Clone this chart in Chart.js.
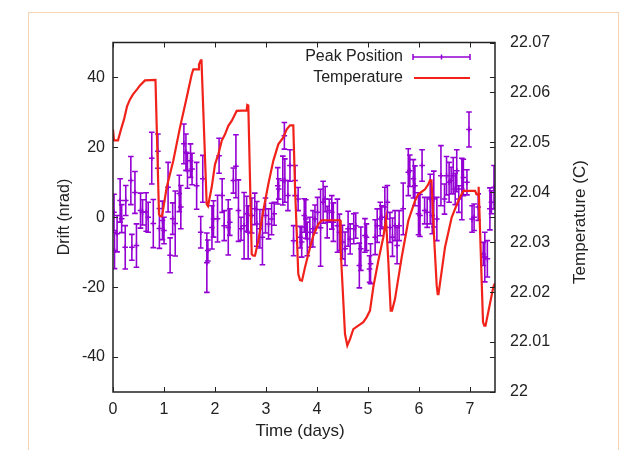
<!DOCTYPE html>
<html lang="en">
<head>
<meta charset="UTF-8">
<title>Drift and Temperature</title>
<script src="https://cdn.jsdelivr.net/npm/chart.js"></script>
<style>
  body { margin: 0; background: #fff; }
  .wrap { position: relative; width: 626px; height: 450px; overflow: hidden; }
  .frame { position: absolute; left: 28px; top: 12px; width: 589px; height: 460px; border: 1px solid #f7d3b4; }
  canvas { position: absolute; left: 0; top: 0; }
</style>
</head>
<body>
<div class="wrap">
  <div class="frame"></div>
  <canvas id="driftChart" width="626" height="450"></canvas>
</div>
<script>
// axis ticks
const dayTicks = [0, 1, 2, 3, 4, 5, 6, 7];
const driftTicks = [-40, -20, 0, 20, 40];
const tempTicks = [22.00, 22.01, 22.02, 22.03, 22.04, 22.05, 22.06, 22.07];
const tempTickLabels = ['22', '22.01', '22.02', '22.03', '22.04', '22.05', '22.06', '22.07'];

// peak position drift (nrad) with error bars
const peakDays = [0.02, 0.03, 0.08, 0.14, 0.17, 0.24, 0.25, 0.35, 0.37, 0.43, 0.46, 0.54, 0.58, 0.65, 0.69, 0.76, 0.79, 0.88, 0.91, 0.97,
  1.00, 1.08, 1.12, 1.17, 1.22, 1.30, 1.33, 1.39, 1.43, 1.46, 1.52, 1.55, 1.64, 1.72, 1.76, 1.84, 1.86, 1.94, 1.97,
  2.05, 2.08, 2.14, 2.18, 2.26, 2.29, 2.36, 2.41, 2.46, 2.51, 2.57, 2.62, 2.65, 2.72, 2.78, 2.82, 2.88, 2.93, 2.99,
  3.05, 3.11, 3.16, 3.23, 3.25, 3.33, 3.36, 3.37, 3.43, 3.47, 3.54, 3.57, 3.63, 3.67, 3.70, 3.75, 3.78, 3.81, 3.86, 3.92, 3.96,
  4.01, 4.07, 4.12, 4.16, 4.20, 4.24, 4.29, 4.32, 4.40, 4.44, 4.50, 4.55, 4.61, 4.65, 4.72, 4.76, 4.83, 4.86, 4.94, 4.97,
  5.03, 5.05, 5.14, 5.18, 5.24, 5.27, 5.33, 5.38, 5.43, 5.48, 5.53, 5.57, 5.61, 5.69, 5.79, 5.82, 5.89, 5.92, 5.99,
  6.02, 6.06, 6.11, 6.16, 6.22, 6.26, 6.29, 6.35, 6.43, 6.50, 6.54, 6.59, 6.63, 6.67, 6.71, 6.74, 6.78, 6.84, 6.87, 6.94, 6.98,
  7.04, 7.08, 7.16, 7.26, 7.29, 7.34, 7.39, 7.42, 7.47];
const peakDrift = [1.4, -9.5, -4.7, 4.8, -0.4, -8.6, 4.8, 10.5, -8.6, 7.1, -8.1, 1.9, 1.4, 1.5, 0, 16.9, -1.8, 18.9, -3.2, -0.9,
  -3.8, 8.6, -10.9, -0.4, -1.8, 6.8, 2.9, 21, 18.6, 13.3, 16.2, 13.8, 9, -4.3, 11, -13, -9.5, -2.9, -0.5,
  -0.4, 17.6, 6.2, -2.4, -2.9, -1.4, 10.5, 14.6, 1.9, -3.3, -2.4, 1, -4.3, 0.5, 2.4, -1.9, -3.3, -5.7, 0.5,
  -1.9, -0.5, 1, 9, 8.1, 10.5, 23.3, 10.5, 6.2, 14.8, -6.7, 10.5, 5.2, -5.7, -7.1, 0.5, -0.5, -6.2, -4.3, -3.3, -0.5,
  1.4, -3, 4.3, 5.2, -1.4, 1.9, 1.4, -1.4, -2.4, -4.3, -7.1, -9, -3.3, -6.2, -3.3, -2.4, -13.8, -9, -5.2, -5.7,
  -14.8, -13.3, -5.7, -2.4, -0.5, 0, 2.9, 4.3, -2.9, -5.7, -2.4, -8.1, -2.4, 2.4, 12.9, 13.3, 11, 9, 1,
  0.5, 14.8, 1.9, 1.4, 5.2, 0.5, 5.2, -0.5, 11.9, 5.2, 11.9, 10, 10.5, 11.9, 8.1, 13.3, 5.2, 8.1, 11.4, 10, 25.1,
  -0.5, 0, 2.9, -10.5, -11.4, -11.9, 2.4, 4.3, 8.6];
const peakErr = [5.2, 5.2, 5.2, 6.2, 4.0, 6.2, 4.3, 6.9, 3.7, 6.0, 6.2, 5.0, 3.6, 5.5, 4.3, 7.4, 6.9, 4.9, 5.7, 5.5,
  3.8, 7.1, 5.0, 4.5, 9.3, 5.2, 6.2, 5.7, 5.2, 5.0, 4.8, 4.5, 6.7, 4.5, 6.7, 8.5, 3.0, 6.2, 5.2,
  6.7, 5.0, 4.8, 4.3, 7.9, 3.8, 3.6, 9.0, 8.8, 3.3, 9.5, 5.0, 7.6, 5.0, 4.5, 6.4, 5.5, 7.9, 5.0,
  4.3, 4.5, 3.3, 5.2, 2.9, 7.0, 3.8, 6.2, 4.3, 4.5, 4.3, 4.3, 3.3, 3.1, 4.3, 4.8, 5.5, 4.8, 4.3, 5.2, 4.0,
  4.3, 11, 6.0, 3.6, 4.5, 3.3, 4.8, 5.5, 7.6, 5.2, 4.8, 4.8, 5.0, 4.3, 4.3, 3.6, 6.4, 6.2, 4.8, 3.8,
  3.8, 5.7, 5.0, 4.8, 4.8, 3.3, 5.7, 4.8, 4.3, 5.5, 4.3, 5.2, 4.3, 7.4, 6.7, 4.5, 5.5, 5.7, 6.0,
  6.0, 4.5, 3.8, 4.3, 7.1, 5.2, 8.0, 6.2, 8.6, 4.3, 5.5, 5.7, 3.8, 5.2, 4.5, 6.0, 3.8, 8.8, 5.2, 3.6, 5.0,
  3.8, 3.8, 3.8, 3.3, 7.1, 5.2, 6.0, 3.3, 6.2];

// temperature (C)
const tempDays = [0.000, 0.020, 0.098, 0.157, 0.216, 0.275, 0.333, 0.392, 0.471, 0.529, 0.627, 0.833, 0.902, 0.922, 0.961,
  1.053, 1.182, 1.314, 1.445, 1.543, 1.575, 1.667, 1.686, 1.720, 1.735, 1.837, 1.863, 1.935,
  2.000, 2.065, 2.131, 2.196, 2.261, 2.327, 2.425, 2.622, 2.633, 2.653, 2.720, 2.751, 2.784, 2.849, 2.947,
  3.045, 3.143, 3.241, 3.339, 3.406, 3.471, 3.535, 3.569, 3.633, 3.667, 3.706, 3.765, 3.829, 3.927,
  4.025, 4.092, 4.451, 4.465, 4.549, 4.594, 4.647, 4.712, 4.810, 4.908, 4.975,
  5.039, 5.104, 5.202, 5.300, 5.353, 5.398, 5.445, 5.471, 5.529, 5.661, 5.790, 5.922, 5.986,
  6.118, 6.182, 6.216, 6.245, 6.294, 6.347, 6.367, 6.382, 6.510, 6.641, 6.771, 6.869,
  7.098, 7.131, 7.157, 7.163, 7.176, 7.255, 7.280, 7.304, 7.457, 7.490];
const tempC = [22.0526, 22.0504, 22.0504, 22.0526, 22.0546, 22.0572, 22.0586, 22.0596, 22.0606, 22.0614, 22.0624, 22.0625, 22.0356, 22.0352, 22.0352,
  22.0410, 22.0463, 22.0530, 22.0590, 22.0636, 22.0646, 22.0646, 22.0656, 22.0664, 22.0664, 22.0376, 22.0372, 22.0410,
  22.0456, 22.0476, 22.0503, 22.0516, 22.0533, 22.0543, 22.0563, 22.0564, 22.0575, 22.0574, 22.0276, 22.0273, 22.0273, 22.0303, 22.0363,
  22.0416, 22.0463, 22.0496, 22.0510, 22.0526, 22.0534, 22.0534, 22.0410, 22.0236, 22.0224, 22.0223, 22.0250, 22.0276, 22.0313,
  22.0336, 22.0344, 22.0344, 22.0283, 22.0116, 22.0093, 22.0106, 22.0126, 22.0133, 22.0140, 22.0150,
  22.0163, 22.0210, 22.0263, 22.0310, 22.0346, 22.0262, 22.0163, 22.0163, 22.0186, 22.0270, 22.0343, 22.0383, 22.0396,
  22.0406, 22.0416, 22.0424, 22.0424, 22.0313, 22.0213, 22.0196, 22.0196, 22.0290, 22.0350, 22.0383, 22.0403,
  22.0403, 22.0396, 22.0396, 22.0411, 22.0410, 22.0140, 22.0133, 22.0133, 22.0210, 22.0218];

const purple = '#9400d3';
const red = '#f0221a';
const ink = '#222';
const FONT = '"Liberation Sans", Arial, Helvetica, sans-serif';

Chart.defaults.font.family = FONT;
Chart.defaults.font.size = 16;
Chart.defaults.color = ink;

// vertical error bars with end caps, drawn under the datasets
const errorBars = {
  id: 'errorBars',
  beforeDatasetsDraw(chart) {
    const { ctx, chartArea: a, scales: { x, y } } = chart;
    ctx.save();
    ctx.beginPath();
    ctx.rect(a.left, a.top, a.width, a.height);
    ctx.clip();
    ctx.strokeStyle = purple;
    ctx.lineWidth = 1.6;
    ctx.beginPath();
    peakDays.forEach((d, i) => {
      const px = x.getPixelForValue(d);
      const hi = y.getPixelForValue(peakDrift[i] + peakErr[i]);
      const lo = y.getPixelForValue(peakDrift[i] - peakErr[i]);
      ctx.moveTo(px, hi); ctx.lineTo(px, lo);
      ctx.moveTo(px - 2.8, hi); ctx.lineTo(px + 2.8, hi);
      ctx.moveTo(px - 2.8, lo); ctx.lineTo(px + 2.8, lo);
    });
    ctx.stroke();
    ctx.restore();
  }
};

// plot border, inward ticks on all sides, axis titles and key
const frame = {
  id: 'frame',
  afterDraw(chart) {
    const { ctx, chartArea: a, scales: { x, y, y1 } } = chart;
    const t = 5;
    ctx.save();
    ctx.strokeStyle = ink;
    ctx.lineWidth = 1;
    ctx.beginPath();
    dayTicks.forEach(v => {
      const px = Math.round(x.getPixelForValue(v)) + 0.5;
      ctx.moveTo(px, a.bottom); ctx.lineTo(px, a.bottom - t);
      ctx.moveTo(px, a.top); ctx.lineTo(px, a.top + t);
    });
    driftTicks.forEach(v => {
      const py = Math.round(y.getPixelForValue(v)) + 0.5;
      ctx.moveTo(a.left, py); ctx.lineTo(a.left + t, py);
      ctx.moveTo(a.right, py); ctx.lineTo(a.right - t, py);
    });
    tempTicks.forEach(v => {
      const py = Math.round(y1.getPixelForValue(v)) + 0.5;
      ctx.moveTo(a.right, py); ctx.lineTo(a.right - t, py);
    });
    ctx.stroke();
    ctx.lineWidth = 1.5;
    ctx.strokeRect(a.left, a.top, a.right - a.left, a.bottom - a.top);

    // axis titles
    ctx.fillStyle = ink;
    ctx.textAlign = 'center';
    ctx.textBaseline = 'middle';
    ctx.font = '17px ' + FONT;
    ctx.fillText('Time (days)', 300, 431);
    ctx.save();
    ctx.translate(580, 222);
    ctx.rotate(-Math.PI / 2);
    ctx.fillText('Temperature (C)', 0, 0);
    ctx.restore();
    ctx.font = '16px ' + FONT;
    ctx.save();
    ctx.translate(65, 217);
    ctx.rotate(-Math.PI / 2);
    ctx.fillText('Drift (nrad)', 0, 0);
    ctx.restore();

    // key
    const ds = chart.data.datasets;
    ctx.textAlign = 'right';
    ctx.fillText(ds[1].label, 403, 57);
    ctx.fillText(ds[0].label, 403, 78);
    ctx.strokeStyle = purple;
    ctx.lineWidth = 1.5;
    ctx.beginPath();
    ctx.moveTo(413, 57); ctx.lineTo(470, 57);
    ctx.moveTo(413, 54); ctx.lineTo(413, 60);
    ctx.moveTo(470, 54); ctx.lineTo(470, 60);
    ctx.moveTo(441.5, 54.5); ctx.lineTo(441.5, 59.5);
    ctx.stroke();
    ctx.strokeStyle = red;
    ctx.lineWidth = 2.2;
    ctx.beginPath();
    ctx.moveTo(414, 78); ctx.lineTo(470, 78);
    ctx.stroke();
    ctx.restore();
  }
};

new Chart(document.getElementById('driftChart'), {
  type: 'line',
  data: {
    datasets: [
      {
        label: 'Temperature',
        data: tempDays.map((d, i) => ({ x: d, y: tempC[i] })),
        yAxisID: 'y1',
        borderColor: red,
        borderWidth: 2.2,
        pointRadius: 0,
        tension: 0,
        order: 0
      },
      {
        label: 'Peak Position',
        data: peakDays.map((d, i) => ({ x: d, y: peakDrift[i] })),
        yAxisID: 'y',
        showLine: false,
        pointStyle: 'cross',
        pointRadius: 2.8,
        borderColor: purple,
        borderWidth: 1.5,
        order: 1
      }
    ]
  },
  options: {
    responsive: false,
    animation: false,
    layout: { padding: { top: 42.5, left: 0, right: 0, bottom: 0 } },
    plugins: { legend: { display: false }, tooltip: { enabled: false } },
    scales: {
      x: {
        type: 'linear',
        min: 0,
        max: 7.49,
        afterBuildTicks: s => { s.ticks = dayTicks.map(v => ({ value: v })); },
        afterFit: s => { s.height = 58; },
        ticks: { padding: 8, maxRotation: 0, callback: v => String(v) },
        grid: { display: false, drawTicks: false },
        border: { display: false }
      },
      y: {
        position: 'left',
        min: -50,
        max: 50,
        afterBuildTicks: s => { s.ticks = driftTicks.map(v => ({ value: v })); },
        afterFit: s => { s.width = 113; },
        ticks: { padding: 8, callback: v => String(v) },
        grid: { display: false, drawTicks: false },
        border: { display: false }
      },
      y1: {
        position: 'right',
        min: 22,
        max: 22.07,
        afterBuildTicks: s => { s.ticks = tempTicks.map(v => ({ value: v })); },
        afterFit: s => { s.width = 131; },
        ticks: { padding: 15, callback: (v, i) => tempTickLabels[i] },
        grid: { display: false, drawTicks: false },
        border: { display: false }
      }
    }
  },
  plugins: [errorBars, frame]
});
</script>
</body>
</html>
